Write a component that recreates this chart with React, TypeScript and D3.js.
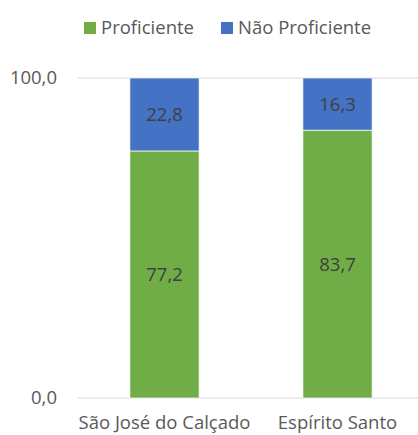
import React, { useRef, useEffect } from 'react';
import * as d3 from 'd3';

const categories = ['São José do Calçado', 'Espírito Santo'];
const proficiente = [77.2, 83.7];
const naoProficiente = [22.8, 16.3];
const seriesNames = ['Proficiente', 'Não Proficiente'];
const seriesColors = ['#70AD47', '#4472C4'];
const yTicks = [0, 100];

const App = () => {
  const svgRef = useRef<SVGSVGElement>(null);

  useEffect(() => {
    const width = 418;
    const height = 435;
    const svg = d3.select(svgRef.current)
      .attr('width', width)
      .attr('height', height)
      .style('display', 'block')
      .style('font-family', '"Open Sans", sans-serif');
    svg.selectAll('*').remove();

    const left = 78;
    const right = 424;
    const top = 78;
    const bottom = 398;
    const textColor = '#595959';
    const fs = 18.5;

    const x = d3.scaleBand().domain(categories).range([left, right]).paddingInner(0.6).paddingOuter(0.3);
    const y = d3.scaleLinear().domain([0, 100]).range([bottom, top]);

    // gridlines
    svg.append('g')
      .selectAll('line')
      .data(yTicks)
      .join('line')
      .attr('x1', left)
      .attr('x2', width)
      .attr('y1', d => y(d))
      .attr('y2', d => y(d))
      .attr('stroke', '#D9D9D9')
      .attr('stroke-width', 1);

    svg.append('g')
      .selectAll('text')
      .data(yTicks)
      .join('text')
      .attr('x', 57)
      .attr('y', d => y(d))
      .attr('dy', '0.35em')
      .attr('text-anchor', 'end')
      .attr('font-size', fs)
      .attr('fill', textColor)
      .text(d => d3.format('.1f')(d).replace('.', ','));

    // stacked bars
    const rows = categories.map((c, i) => ({ cat: c, p: proficiente[i], n: naoProficiente[i] }));
    const stack = d3.stack<any>().keys(['p', 'n'])(rows);

    stack.forEach((layer, li) => {
      const g = svg.append('g');
      g.selectAll('rect')
        .data(layer)
        .join('rect')
        .attr('x', d => x(d.data.cat)!)
        .attr('width', x.bandwidth())
        .attr('y', d => y(d[1]))
        .attr('height', d => y(d[0]) - y(d[1]))
        .attr('fill', seriesColors[li])
        .attr('stroke', '#fff')
        .attr('stroke-width', 0.7);
      g.selectAll('text')
        .data(layer)
        .join('text')
        .attr('x', d => x(d.data.cat)! + x.bandwidth() / 2)
        .attr('y', d => (y(d[0]) + y(d[1])) / 2)
        .attr('dy', '0.35em')
        .attr('text-anchor', 'middle')
        .attr('font-size', fs)
        .attr('fill', '#404040')
        .text(d => d3.format('.1f')(d[1] - d[0]).replace('.', ','));
    });

    // category labels
    svg.append('g')
      .selectAll('text')
      .data(categories)
      .join('text')
      .attr('x', d => x(d)! + x.bandwidth() / 2)
      .attr('y', 423)
      .attr('dy', '0.35em')
      .attr('text-anchor', 'middle')
      .attr('font-size', fs)
      .attr('fill', textColor)
      .text(d => d);

    // legend
    const legend = svg.append('g');
    const legendX = [84, 221];
    seriesNames.forEach((name, i) => {
      legend.append('rect')
        .attr('x', legendX[i])
        .attr('y', 22)
        .attr('width', 12)
        .attr('height', 12)
        .attr('fill', seriesColors[i]);
      legend.append('text')
        .attr('x', legendX[i] + 17)
        .attr('y', 28)
        .attr('dy', '0.35em')
        .attr('font-size', fs)
        .attr('fill', textColor)
        .text(name);
    });
  }, []);

  return <svg ref={svgRef} style={{ position: 'absolute', left: 0, top: 0 }}></svg>;
};

export default App;
